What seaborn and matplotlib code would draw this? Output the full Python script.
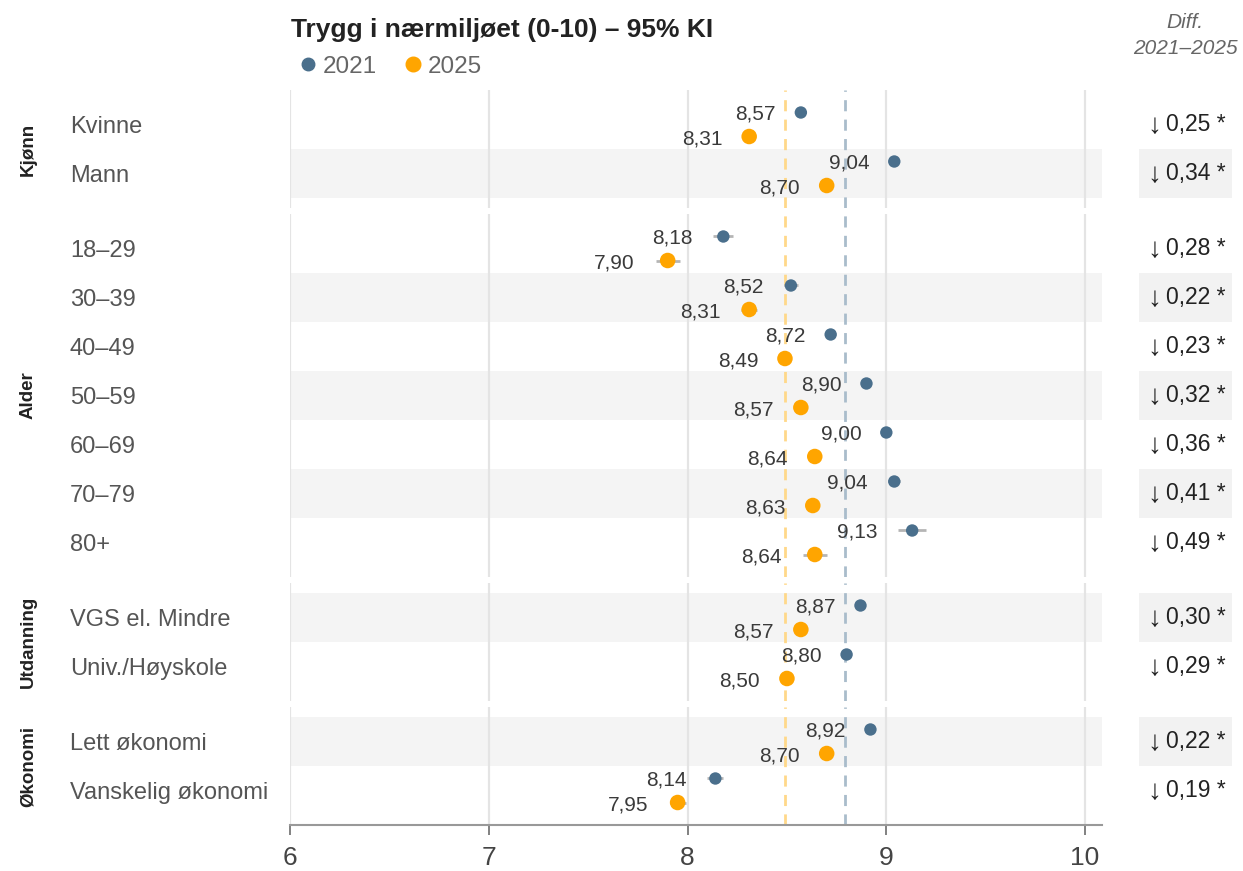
import numpy as np
import pandas as pd
import matplotlib
matplotlib.use("Agg")
import matplotlib.pyplot as plt
import matplotlib.transforms as mtransforms
from matplotlib.lines import Line2D
import seaborn as sns

# ---- data -------------------------------------------------------------
groups = ["Kjønn", "Alder", "Utdanning", "Økonomi"]
group_sizes = [2, 7, 2, 2]
categories = ["Kvinne", "Mann",
              "18–29", "30–39", "40–49", "50–59", "60–69", "70–79", "80+",
              "VGS el. Mindre", "Univ./Høyskole",
              "Lett økonomi", "Vanskelig økonomi"]
values_2021 = [8.57, 9.04, 8.18, 8.52, 8.72, 8.90, 9.00, 9.04, 9.13, 8.87, 8.80, 8.92, 8.14]
values_2025 = [8.31, 8.70, 7.90, 8.31, 8.49, 8.57, 8.64, 8.63, 8.64, 8.57, 8.50, 8.70, 7.95]
ci_2021 = [0.02, 0.02, 0.05, 0.035, 0.02, 0.02, 0.02, 0.03, 0.07, 0.02, 0.02, 0.02, 0.04]
ci_2025 = [0.03, 0.03, 0.06, 0.04, 0.03, 0.03, 0.03, 0.03, 0.06, 0.03, 0.03, 0.03, 0.04]
diff_values = [0.25, 0.34, 0.28, 0.22, 0.23, 0.32, 0.36, 0.41, 0.49, 0.30, 0.29, 0.22, 0.19]
diff_significant = [True] * 13
mean_2021 = 8.79
mean_2025 = 8.49
years = ["2021", "2025"]
x_ticks = [6, 7, 8, 9, 10]

# ---- style ------------------------------------------------------------
sns.set_theme(style="white")
plt.rcParams["font.family"] = ["Liberation Sans", "DejaVu Sans"]

C2021 = "#4A6F8C"
C2025 = "#FFA500"
palette = {"2021": C2021, "2025": C2025}
sizes = {"2021": 80, "2025": 125}
year_offset = {"2021": -0.245, "2025": 0.245}

rows = []
for i, cat in enumerate(categories):
    for yr, vals, cis in (("2021", values_2021, ci_2021), ("2025", values_2025, ci_2025)):
        rows.append({"row": i, "category": cat, "year": yr,
                     "value": vals[i], "ci": cis[i]})
df = pd.DataFrame(rows)
group_of_row = np.repeat(np.arange(len(groups)), group_sizes)
df["group"] = group_of_row[df["row"]]

# ---- layout (pixels) ---------------------------------------------------
W, H = 1243, 871
fig = plt.figure(figsize=(W / 100, H / 100), dpi=100)


def fx(px):
    return px / W


def fy(py):
    return 1 - py / H


ROW_PX, PAD_PX, GAP_PX = 49, 10, 6
LEFT_PX, RIGHT_PX, TOP_PX = 290, 1102, 90
DIFF_L, DIFF_R = 1139, 1232
pad_rows = PAD_PX / ROW_PX

top = TOP_PX
start = 0
for g, (gname, n) in enumerate(zip(groups, group_sizes)):
    h = n * ROW_PX + 2 * PAD_PX
    bottom = top + h
    ax = fig.add_axes([fx(LEFT_PX), fy(bottom), fx(RIGHT_PX) - fx(LEFT_PX), h / H])
    dax = fig.add_axes([fx(DIFF_L), fy(bottom), fx(DIFF_R) - fx(DIFF_L), h / H])

    sub = df[df["group"] == g].copy()
    sub["local"] = sub["row"] - start
    sub["ypos"] = sub["local"] + sub["year"].map(year_offset)

    # alternating row bands
    for i in range(n):
        if (start + i) % 2 == 1:
            ax.axhspan(i - 0.5, i + 0.5, color="#f4f4f4", lw=0, zorder=0)
            dax.axhspan(i - 0.5, i + 0.5, color="#f2f2f2", lw=0, zorder=0)

    # reference means
    ax.axvline(mean_2025, color="#FFD88A", lw=2, ls=(0, (4, 3)), zorder=1)
    ax.axvline(mean_2021, color="#A9BCCB", lw=2, ls=(0, (4, 3)), zorder=1)

    # confidence intervals
    ax.hlines(sub["ypos"], sub["value"] - sub["ci"], sub["value"] + sub["ci"],
              color="#b5b5b5", lw=2, zorder=2)

    sns.scatterplot(data=sub, x="value", y="ypos", hue="year", palette=palette,
                    size="year", sizes=sizes, linewidth=0, legend=False,
                    ax=ax, zorder=3)

    for _, r in sub.iterrows():
        ax.annotate(f"{r['value']:.2f}".replace(".", ","),
                    xy=(r["value"] - r["ci"], r["ypos"]), xytext=(-15, 0),
                    textcoords="offset points", ha="right", va="center_baseline",
                    fontsize=15, color="#3a3a3a")

    ax.set_xlim(6, 10.085)
    ax.set_ylim(n - 0.5 + pad_rows, -0.5 - pad_rows)
    ax.set_xticks(x_ticks)
    ax.grid(axis="x", color="#e4e4e4", lw=1.6)
    ax.grid(axis="y", visible=False)
    ax.set_axisbelow(True)
    ax.set_xlabel("")
    ax.set_ylabel("")
    ax.set_yticks(range(n))
    ax.set_yticklabels(categories[start:start + n])
    ax.tick_params(axis="y", length=0, pad=158.5, labelsize=17, labelcolor="#555555")
    for lab in ax.get_yticklabels():
        lab.set_horizontalalignment("left")
    for s in ax.spines.values():
        s.set_visible(False)
    if g == len(groups) - 1:
        ax.spines["bottom"].set_visible(True)
        ax.spines["bottom"].set_color("#999999")
        ax.spines["bottom"].set_linewidth(1.5)
        ax.tick_params(axis="x", bottom=True, length=7, width=1.3, color="#777777",
                       labelsize=19, labelcolor="#444444", pad=8)
        ax.set_xticklabels([str(t) for t in x_ticks])
    else:
        ax.tick_params(axis="x", bottom=False, labelbottom=False)

    # group label
    trans = mtransforms.blended_transform_factory(fig.transFigure, ax.transAxes)
    ax.text(fx(28), 0.5, gname, transform=trans, rotation=90, ha="center",
            va="center", fontsize=13.5, fontweight="bold", color="#222222")

    # difference column
    dax.set_xlim(0, 1)
    dax.set_ylim(n - 0.5 + pad_rows, -0.5 - pad_rows)
    for i in range(n):
        d = diff_values[start + i]
        star = " *" if diff_significant[start + i] else ""
        dax.text(0.165, i + 0.04, "↓", ha="center", va="center", fontsize=20,
                 color="#222222")
        dax.text(0.29, i, f"{d:.2f}".replace(".", ",") + star, ha="left",
                 va="center", fontsize=16.5, color="#222222")
    dax.axis("off")

    top = bottom + GAP_PX
    start += n

# ---- title, legend, column header -------------------------------------
fig.text(fx(291), fy(30), "Trygg i nærmiljøet (0-10) – 95% KI", fontsize=19,
         fontweight="bold", color="#222222", ha="left", va="center")

handles = [Line2D([], [], marker="o", ls="", color=C2021, markersize=9),
           Line2D([], [], marker="o", ls="", color=C2025, markersize=10.5)]
fig.legend(handles=handles, labels=years, loc="center left",
           bbox_to_anchor=(fx(296), fy(67)), ncol=2, frameon=False,
           fontsize=17.5, labelcolor="#666666", handletextpad=0.1,
           columnspacing=1.0, borderaxespad=0, borderpad=0, handlelength=1)

fig.text(fx(1185), fy(22), "Diff.", fontsize=15, style="italic",
         color="#666666", ha="center", va="center")
fig.text(fx(1185), fy(48), "2021–2025", fontsize=15, style="italic",
         color="#666666", ha="center", va="center")

fig.savefig("out.png", dpi=100)
